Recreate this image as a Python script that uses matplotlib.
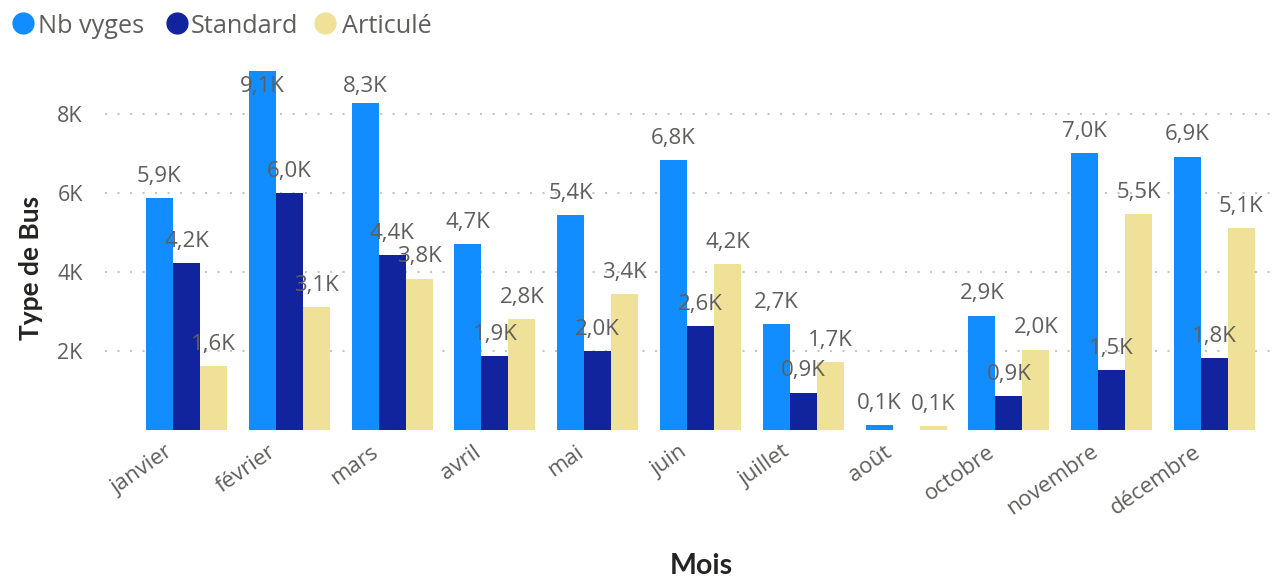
import numpy as np
import matplotlib
matplotlib.use("Agg")
import matplotlib.pyplot as plt
from matplotlib.lines import Line2D
import matplotlib.transforms as mtransforms

months = ["janvier", "février", "mars", "avril", "mai", "juin", "juillet",
          "août", "octobre", "novembre", "décembre"]
series_names = ["Nb vyges", "Standard", "Articulé"]
nb_vyges = [5870, 9100, 8300, 4710, 5440, 6840, 2680, 120, 2890, 7010, 6930]
standard = [4230, 6000, 4430, 1870, 2000, 2630, 940, np.nan, 860, 1520, 1820]
articule = [1620, 3110, 3830, 2810, 3440, 4200, 1720, 100, 2030, 5470, 5110]
colors = ["#118DFF", "#12239E", "#F0E199"]
yticks = [2000, 4000, 6000, 8000]
ytick_labels = ["2K", "4K", "6K", "8K"]

W, H = 1286, 579
DPI = 100
fig = plt.figure(figsize=(W / DPI, H / DPI), dpi=DPI)
plt.rcParams['font.family'] = ['Open Sans', 'DejaVu Sans']

ax_l, ax_r, ax_t, ax_b = 105, 1280, 71, 430
ax = fig.add_axes([ax_l / W, 1 - ax_b / H, (ax_r - ax_l) / W, (ax_b - ax_t) / H])

gray = "#605E5C"
ymax = 9100
spacing = 102.8
x = np.arange(len(months))
bw = 27 / spacing
ax.set_xlim(-(186.5 - ax_l) / spacing, -(186.5 - ax_l) / spacing + (ax_r - ax_l) / spacing)
ax.set_ylim(0, ymax)

ax_h_px = ax_b - ax_t
ppu = ax_h_px / ymax
pt = 72 / DPI

all_series = [nb_vyges, standard, articule]
for i, (vals, col, name) in enumerate(zip(all_series, colors, series_names)):
    xs = x + (i - 1) * bw
    ax.bar(xs, vals, width=bw, color=col, label=name, zorder=3, linewidth=0)
    for xi, v in zip(xs, vals):
        if np.isnan(v):
            continue
        lab = f"{v / 1000:.1f}K".replace(".", ",")
        if v * ppu + 16.5 > ax_h_px - 21:
            ax.annotate(lab, xy=(xi, ymax), xytext=(0, -21 * pt), textcoords="offset points",
                        ha="center", va="baseline", fontsize=16, color=gray, zorder=4,
                        annotation_clip=False)
        else:
            ax.annotate(lab, xy=(xi, v), xytext=(0, 16.5 * pt), textcoords="offset points",
                        ha="center", va="baseline", fontsize=16, color=gray, zorder=4,
                        annotation_clip=False)

ax.set_yticks(yticks)
ax.set_yticklabels(ytick_labels)
ax.yaxis.grid(True, linestyle=(0, (1, 5)), linewidth=1.5, color="#C8C6C4", zorder=0)
ax.xaxis.grid(False)
for s in ax.spines.values():
    s.set_visible(False)
ax.tick_params(axis="y", length=0, pad=16, labelsize=15.5, labelcolor=gray)
ax.tick_params(axis="x", length=0, pad=6, labelsize=16, labelcolor=gray)
ax.set_xticks(x)
ax.set_xticklabels(months, rotation=35, ha="right", rotation_mode="anchor")
offset = mtransforms.ScaledTranslation(-22 / DPI, -3 / DPI, fig.dpi_scale_trans)
for lbl in ax.get_xticklabels():
    lbl.set_transform(lbl.get_transform() + offset)

# axis titles
fig.text(31 / W, 1 - 268 / H, "Type de Bus", rotation=90, ha="center", va="center",
         fontsize=19, color="#252423", family=["Lato", "DejaVu Sans"], fontweight="bold")
fig.text(701 / W, 1 - 566 / H, "Mois", ha="center", va="center",
         fontsize=20.5, color="#252423", family=["Lato", "DejaVu Sans"], fontweight="bold")

# legend
leg_circle_x = [23, 177, 325]
leg_text_x = [38, 191, 342]
for cx, tx, col, name in zip(leg_circle_x, leg_text_x, colors, series_names):
    fig.add_artist(Line2D([cx / W], [1 - 23 / H], marker="o", markersize=15,
                          color=col, linestyle="none", transform=fig.transFigure))
    fig.text(tx / W, 1 - 33 / H, name, ha="left", va="baseline", fontsize=18.2, color=gray)

fig.savefig("out.png", dpi=DPI)
